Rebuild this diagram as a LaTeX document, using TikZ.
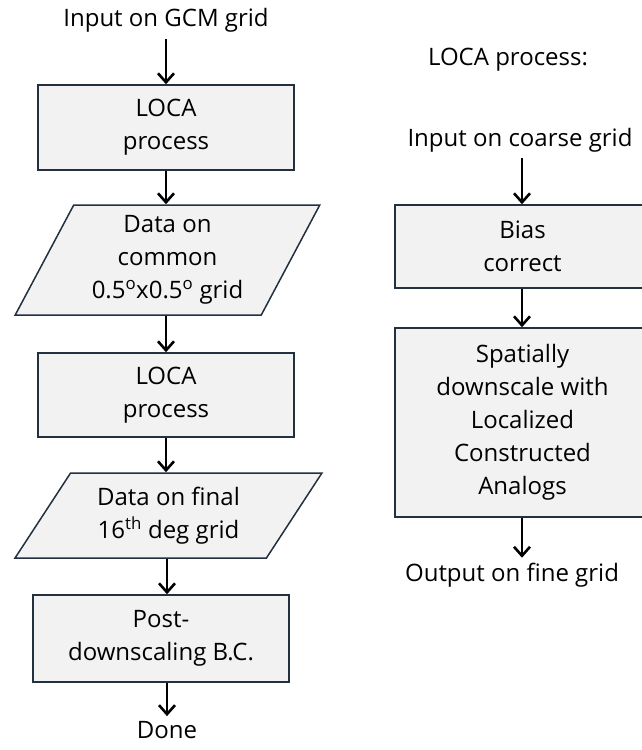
\documentclass[tikz,border=0pt]{standalone}
\usepackage{fontspec}
\setmainfont{Open Sans}
\usepackage{xcolor}
\usetikzlibrary{arrows.meta,shapes.geometric}
\definecolor{boxline}{HTML}{22303F}
\definecolor{boxfill}{HTML}{F2F2F2}
\tikzset{
    process-box/.style = {draw=boxline, fill=boxfill, line width=1.5pt, rectangle, minimum width=256pt, align=center, inner sep=0pt},
    data-box/.style = {draw=boxline, fill=boxfill, line width=1.5pt, trapezium, trapezium stretches=true, align=center, inner sep=0pt},
    plain-text/.style = {align=center, inner sep=3pt},
    flow-arrow/.style = {-{Straight Barb[length=9pt,width=16pt,line width=2.6pt]}, line width=2.6pt},
}

\begin{document}
\begin{tikzpicture}[x=1pt, y=-1pt, font=\fontsize{24}{33}\selectfont]
\clip (0,0) rectangle (642,750);
\node[plain-text] (gcm-input) at (166,20) {Input on GCM grid};
\node[process-box, minimum height=85pt] (loca-first) at (166,127.5) {LOCA\\process};
\node[data-box, minimum width=305pt, minimum height=110pt, trapezium left angle=62, trapezium right angle=118] (common-grid) at (167.5,260) {Data on\\common\\0.5\textsuperscript{o}x0.5\textsuperscript{o} grid};
\node[process-box, minimum height=84pt] (loca-second) at (166,395) {LOCA\\process};
\node[data-box, minimum width=307pt, minimum height=85pt, trapezium left angle=54.7, trapezium right angle=125.3] (final-grid) at (168.5,515.5) {Data on final\\16\textsuperscript{th} deg grid};
\node[process-box, minimum height=87pt] (post-bc) at (161,638.5) {Post-\\downscaling B.C.};
\node[plain-text] (done) at (167,730) {Done};

\draw[flow-arrow, shorten <=4pt] (gcm-input.south -| loca-first) -- (loca-first.north);
\draw[flow-arrow] (loca-first.south) -- (loca-first.south |- common-grid.north);
\draw[flow-arrow] (loca-first.south |- common-grid.south) -- (loca-second.north);
\draw[flow-arrow] (loca-second.south) -- (loca-second.south |- final-grid.north);
\draw[flow-arrow] (done |- final-grid.south) -- (done |- post-bc.north);
\draw[flow-arrow, shorten >=2pt] (done |- post-bc.south) -- (done.north);

\coordinate (right-axis) at (522,0);
\node[plain-text] (loca-title) at (508,60) {LOCA process:};
\node[plain-text] (coarse-input) at (520,140) {Input on coarse grid};
\node[process-box, minimum width=275pt, minimum height=83pt] (bias) at (532.5,246.5) {\hspace*{-20pt}Bias\\\hspace*{-20pt}correct};
\node[process-box, minimum width=275pt, minimum height=189pt] (spatial) at (532.5,422.5) {\hspace*{-20pt}Spatially\\\hspace*{-20pt}downscale with\\\hspace*{-20pt}Localized\\\hspace*{-20pt}Constructed\\\hspace*{-20pt}Analogs};
\node[plain-text] (fine-output) at (512,575) {Output on fine grid};

\draw[flow-arrow, shorten <=3pt] (right-axis |- coarse-input.south) -- (right-axis |- bias.north);
\draw[flow-arrow] (right-axis |- bias.south) -- (right-axis |- spatial.north);
\draw[flow-arrow, shorten >=2pt] (right-axis |- spatial.south) -- (right-axis |- fine-output.north);
\end{tikzpicture}
\end{document}
